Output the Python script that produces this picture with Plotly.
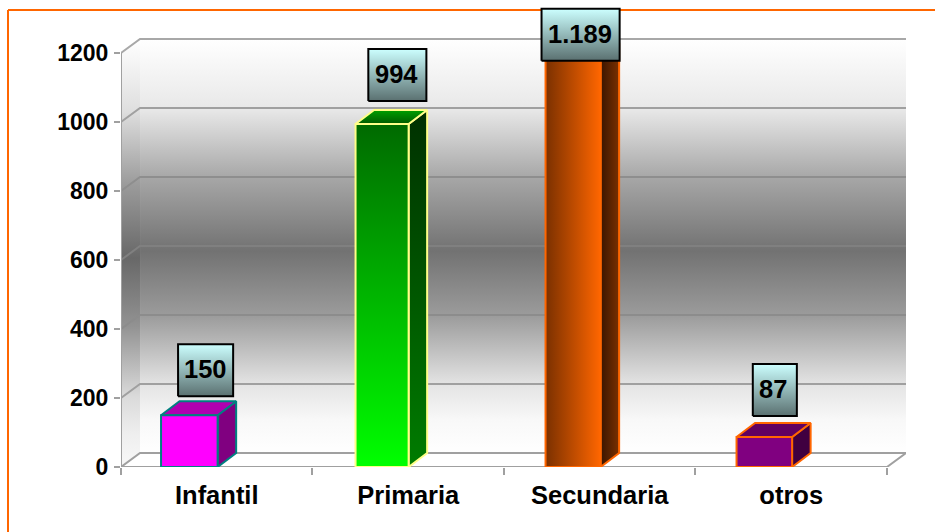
import plotly.graph_objects as go

categories = ["Infantil", "Primaria", "Secundaria", "otros"]
values = [150, 994, 1189, 87]
value_labels = ["150", "994", "1.189", "87"]
y_ticks = [0, 200, 400, 600, 800, 1000, 1200]

W, H = 935, 532
L, R, T, B = 121, 906, 4, 467            # plot area in pixels
Y_PX = 0.345                             # px per value unit
X_PX = 191.25                            # px per category
DX = 19 / X_PX                           # 3-D depth in category units
DY = 14 / Y_PX                           # 3-D depth in value units
BAR_DX = 18.5 / X_PX
bar_left_px = [40, 43, 41.5, 41]         # front face inset within each category
bar_width_px = [56.5, 53, 55, 55.5]
XMAX = 4 + DX
YMAX = (B - T) / Y_PX
WALL_TOP = 1200 + DY

styles = [
    dict(edge="#008080", front=("v", "#ff00ff", "#ff00ff"), side=("v", "#800080", "#800080"), top=("v", "#b000b0", "#b000b0")),
    dict(edge="#ffff88", front=("v", "#00ff00", "#006a00"), side=("v", "#007c00", "#003000"), top=("v", "#005a00", "#00a000")),
    dict(edge="#ff6600", front=("h", "#7a3000", "#ff6600"), side=("h", "#3a1500", "#7a3000"), top=("h", "#7a3000", "#a04000")),
    dict(edge="#ff6600", front=("v", "#800080", "#800080"), side=("v", "#400040", "#400040"), top=("v", "#600060", "#600060")),
]
grid_colors = ["#a0a0a0", "#a0a0a0", "#8c8c8c", "#808080", "#8e8e8e", "#a0a0a0", "#a8a8a8"]
label_cx_px = [205.5, 397, 580, 774]     # label box centres
label_up_px = [19, 23, -4, 21]           # box bottom above the bar's front top
label_w_px = [55, 58, 78, 44]
label_text_dx = [0, -1, -1, -2]
LABEL_H_PX = 52

fig = go.Figure()


def poly(xs, ys, grad, line=None, width=2):
    """Filled polygon with a linear gradient; grad=(dir, low-end colour, high-end colour)."""
    d, c0, c1 = grad
    if d == "v":
        start, stop = max(ys), min(ys)
        gtype = "vertical"
        c0, c1 = c1, c0
    else:
        start, stop = min(xs), max(xs)
        gtype = "horizontal"
    fig.add_trace(go.Scatter(
        x=list(xs) + [xs[0]], y=list(ys) + [ys[0]], mode="lines", fill="toself",
        line=dict(color=line or "rgba(0,0,0,0)", width=width if line else 0),
        fillgradient=dict(type=gtype, colorscale=[[0, c0], [1, c1]], start=start, stop=stop),
        hoverinfo="skip", showlegend=False, cliponaxis=False))


def stops_fill(xs, ys, stops):
    fig.add_trace(go.Scatter(
        x=list(xs) + [xs[0]], y=list(ys) + [ys[0]], mode="lines", fill="toself",
        line=dict(width=0, color="rgba(0,0,0,0)"),
        fillgradient=dict(type="vertical", colorscale=stops, start=max(ys), stop=min(ys)),
        hoverinfo="skip", showlegend=False, cliponaxis=False))


def seg(xs, ys, color="#a0a0a0", width=2):
    fig.add_trace(go.Scatter(x=xs, y=ys, mode="lines", line=dict(color=color, width=width),
                             hoverinfo="skip", showlegend=False, cliponaxis=False))


wall = [[0, "#ffffff"], [0.17, "#e8e8e8"], [0.337, "#a6a6a6"], [0.512, "#727272"],
        [0.67, "#9c9c9c"], [0.835, "#e4e4e4"], [0.92, "#f8f8f8"], [1, "#ffffff"]]
side = [[0, "#ffffff"], [0.17, "#dedede"], [0.337, "#9c9c9c"], [0.512, "#686868"],
        [0.67, "#929292"], [0.835, "#dadada"], [0.92, "#eeeeee"], [1, "#f8f8f8"]]

# walls
stops_fill([DX, XMAX, XMAX, DX], [DY, DY, WALL_TOP, WALL_TOP], wall)
stops_fill([0, DX, DX, 0], [0, DY, WALL_TOP, 1200], side)

# gridlines and frame
for v, c in zip(y_ticks, grid_colors):
    seg([0, DX, XMAX], [v, v + DY, v + DY], color=c)
seg([0, 0], [0, 1200])
seg([0, 4, XMAX], [0, 0, DY])

# bars
for i, (v, s) in enumerate(zip(values, styles)):
    x0 = i + bar_left_px[i] / X_PX
    x1 = x0 + bar_width_px[i] / X_PX
    poly([x1, x1 + BAR_DX, x1 + BAR_DX, x1], [0, DY, v + DY, v], s["side"], s["edge"])
    poly([x0, x1, x1 + BAR_DX, x0 + BAR_DX], [v, v, v + DY, v + DY], s["top"], s["edge"])
    poly([x0, x1, x1, x0], [0, 0, v, v], s["front"], s["edge"])

# value labels
for i, (v, t) in enumerate(zip(values, value_labels)):
    cx = (label_cx_px[i] - L) / X_PX
    hw = label_w_px[i] / 2 / X_PX
    y0 = v + label_up_px[i] / Y_PX
    y1 = y0 + LABEL_H_PX / Y_PX
    poly([cx - hw, cx + hw, cx + hw, cx - hw], [y0, y0, y1, y1], ("v", "#5a7070", "#ccffff"), "#000000", 2)
    fig.add_annotation(x=cx, y=(y0 + y1) / 2, text=t, showarrow=False, xref="x", yref="y",
                       xshift=label_text_dx[i], yshift=1,
                       font=dict(family="Liberation Sans", size=25.5, color="#000000", weight="bold"))

# orange outer border
px = lambda p: (p - L) / (R - L)
py = lambda p: (B - p) / (B - T)
for x0, y0, x1, y1 in [(8, 10, 935, 10), (8, 10, 8, 532)]:
    fig.add_shape(type="line", xref="paper", yref="paper", x0=px(x0), y0=py(y0), x1=px(x1), y1=py(y1),
                  line=dict(color="#ff6600", width=2), layer="below")

fig.update_layout(
    width=W, height=H, margin=dict(l=L, r=W - R, t=T, b=H - B, autoexpand=False),
    paper_bgcolor="#ffffff", plot_bgcolor="rgba(0,0,0,0)", showlegend=False,
    font=dict(family="Liberation Sans", color="#000000"),
    xaxis=dict(range=[0, XMAX], tickmode="array", tickvals=[i + 0.5 for i in range(4)],
               ticktext=categories, ticks="", showgrid=False, zeroline=False, showline=False,
               ticklabelstandoff=10,
               tickfont=dict(size=25.5, weight="bold", color="#000000"),
               minor=dict(tickmode="array", tickvals=[0, 1, 2, 3, 4], ticks="outside", ticklen=7,
                          tickwidth=2, tickcolor="#a0a0a0", showgrid=False)),
    yaxis=dict(range=[0, YMAX], tickmode="array", tickvals=y_ticks,
               ticktext=[str(t) for t in y_ticks], ticks="outside", ticklen=6, tickwidth=2,
               tickcolor="#a0a0a0", showgrid=False, zeroline=False, showline=False,
               ticklabelstandoff=1,
               tickfont=dict(size=23, weight="bold", color="#000000")),
)

fig.write_html("out.html", config=dict(displayModeBar=False),
               post_script="document.body.style.margin='0';")
